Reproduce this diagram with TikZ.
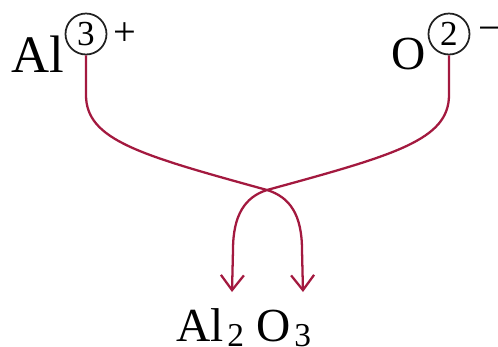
\documentclass[tikz,border=0pt]{standalone}
\usepackage{fontspec}
\setmainfont{Liberation Serif}
\usetikzlibrary{arrows.meta}
\definecolor{colBond}{HTML}{A3193F}
\definecolor{colRing}{HTML}{222222}

\begin{document}
\begin{tikzpicture}[x=0.02cm, y=-0.02cm,
  elem/.style={inner sep=0pt, anchor=base west, font=\fontsize{30}{32}\selectfont},
  sub/.style={inner sep=0pt, anchor=base west, font=\fontsize{19}{22}\selectfont},
  ring/.style={circle, draw=colRing, line width=1pt, minimum size=0.82cm, inner sep=0pt, font=\fontsize{20}{22}\selectfont},
  charge/.style={inner sep=0pt, font=\fontsize{23}{25}\selectfont},
  swap/.style={colBond, line width=1.3pt, -{Straight Barb[length=0.3cm, width=0.46cm]}}]
  \useasboundingbox (0,0) rectangle (498,346);

  % Ions with charges
  \node[elem] (al) at (11,72) {Al};
  \node[ring] (q3) at (86,34) {3};
  \node[charge] (plus) at (125,34) {+};
  \node[elem, font=\fontsize{27}{30}\selectfont] (o) at (391,69) {O};
  \node[ring] (q2) at (449,34) {2};
  \node[charge] (minus) at (490,34) {−};

  % Product formula
  \node[elem, font=\fontsize{27}{30}\selectfont] (pal) at (176,341) {Al};
  \node[sub] (n2) at (227,346) {2};
  \node[elem, font=\fontsize{27}{30}\selectfont] (po) at (256,341) {O};
  \node[sub] (n3) at (294,346) {3};

  % Criss-cross of the charges
  \coordinate (x) at (267,190);
  \coordinate (t2) at (232,292);
  \coordinate (t3) at (303,292);
  \draw[swap] (q3.south) -- (86,95) .. controls (86,140) and (140,155) .. (x)
    .. controls (290,197) and (302,215) .. (302,250) -- (t3);
  \draw[swap] (q2.south) -- (449,95) .. controls (449,140) and (395,155) .. (x)
    .. controls (245,197) and (233,215) .. (233,250) -- (t2);
\end{tikzpicture}
\end{document}
